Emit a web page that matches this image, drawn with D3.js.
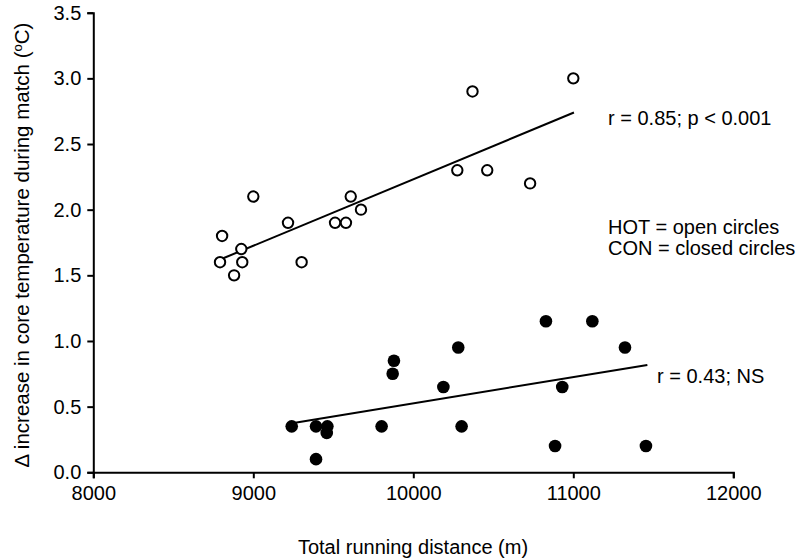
<!DOCTYPE html>
<html><head><meta charset="utf-8">
<script src="https://cdn.jsdelivr.net/npm/d3@7"></script>
<style>
body{margin:0;background:#fff;}
svg text{font-family:"Liberation Sans",Arial,sans-serif;fill:#000;}
</style>
</head><body>
<svg id="chart" width="799" height="560"></svg>
<script>
// HOT (open circles)
const hotDistance = [11000,10370,10275,10462,10730,9000,9609,9673,9217,9511,9579,8805,8925,8792,8931,9302,8880];
const hotTemp     = [3.0, 2.9, 2.3, 2.3, 2.2, 2.1, 2.1, 2.0, 1.9, 1.9, 1.9, 1.8, 1.7, 1.6, 1.6, 1.6, 1.5];
// CON (closed circles)
const conDistance = [10829,11119,10281,11323,9879,9871,10188,10931,9240,9392,9463,9459,9802,10302,9392,10886,11454];
const conTemp     = [1.15, 1.15, 0.95, 0.95, 0.85, 0.75, 0.65, 0.65, 0.35, 0.35, 0.35, 0.30, 0.35, 0.35, 0.10, 0.20, 0.20];
// regression line end points
const hotFitX = [8812, 11004];
const hotFitY = [1.63, 2.74];
const conFitX = [9261, 11463];
const conFitY = [0.378, 0.817];
// axes
const xTicks = [8000, 9000, 10000, 11000, 12000];
const yTicks = [0.0, 0.5, 1.0, 1.5, 2.0, 2.5, 3.0, 3.5];
const xTitle = "Total running distance (m)";
const hotLabel = "r = 0.85; p < 0.001";
const conLabel = "r = 0.43; NS";
const legendLines = ["HOT = open circles", "CON = closed circles"];

const svg = d3.select("#chart");
const x = d3.scaleLinear().domain([8000, 12000]).range([93.3, 733.3]);
const y = d3.scaleLinear().domain([0, 3.5]).range([472.3, 12.7]);

const xAxis = svg.append("g").attr("transform", `translate(0,${y(0)})`)
  .call(d3.axisBottom(x).tickValues(xTicks).tickFormat(d3.format("d")).tickSizeOuter(0).tickSize(6).tickPadding(8));
const yAxis = svg.append("g").attr("transform", `translate(${x(8000)},0)`)
  .call(d3.axisLeft(y).tickValues(yTicks).tickFormat(d3.format(".1f")).tickSizeOuter(0).tickSize(6).tickPadding(6));
[xAxis, yAxis].forEach(g => {
  g.selectAll("path").attr("stroke", "#000").attr("stroke-width", 2);
  g.selectAll("line").attr("stroke", "#000").attr("stroke-width", 2);
  g.selectAll("text").style("font-size", "20px").attr("fill", "#000");
});

// lines
const line = d3.line().x(d => x(d[0])).y(d => y(d[1]));
svg.append("path").datum(d3.zip(hotFitX, hotFitY)).attr("d", line)
  .attr("fill", "none").attr("stroke", "#000").attr("stroke-width", 2);
svg.append("path").datum(d3.zip(conFitX, conFitY)).attr("d", line)
  .attr("fill", "none").attr("stroke", "#000").attr("stroke-width", 2);

// points
svg.append("g").selectAll("circle").data(d3.zip(hotDistance, hotTemp)).join("circle")
  .attr("cx", d => x(d[0])).attr("cy", d => y(d[1])).attr("r", 5.2)
  .attr("fill", "#fff").attr("stroke", "#000").attr("stroke-width", 2);
svg.append("g").selectAll("circle").data(d3.zip(conDistance, conTemp)).join("circle")
  .attr("cx", d => x(d[0])).attr("cy", d => y(d[1])).attr("r", 6.3)
  .attr("fill", "#000");

// annotations
svg.append("text").attr("x", 608).attr("y", 125).style("font-size", "20px").text(hotLabel);
svg.append("text").attr("x", 657).attr("y", 383).style("font-size", "20px").text(conLabel);
svg.selectAll(".leg").data(legendLines).join("text").attr("class", "leg")
  .attr("x", 608).attr("y", (d, i) => 234 + i * 21).style("font-size", "20px").text(d => d);

// axis titles
svg.append("text").attr("x", 413).attr("y", 554).attr("text-anchor", "middle")
  .style("font-size", "20px").text(xTitle);
const yt = svg.append("text").attr("transform", "translate(29,245) rotate(-90)")
  .attr("text-anchor", "middle").style("font-size", "20.5px");
yt.append("tspan").text("\u0394 increase in core temperature during match (");
yt.append("tspan").attr("dy", -7).style("font-size", "13px").text("o");
yt.append("tspan").attr("dy", 7).text("C)");
</script>
</body></html>
